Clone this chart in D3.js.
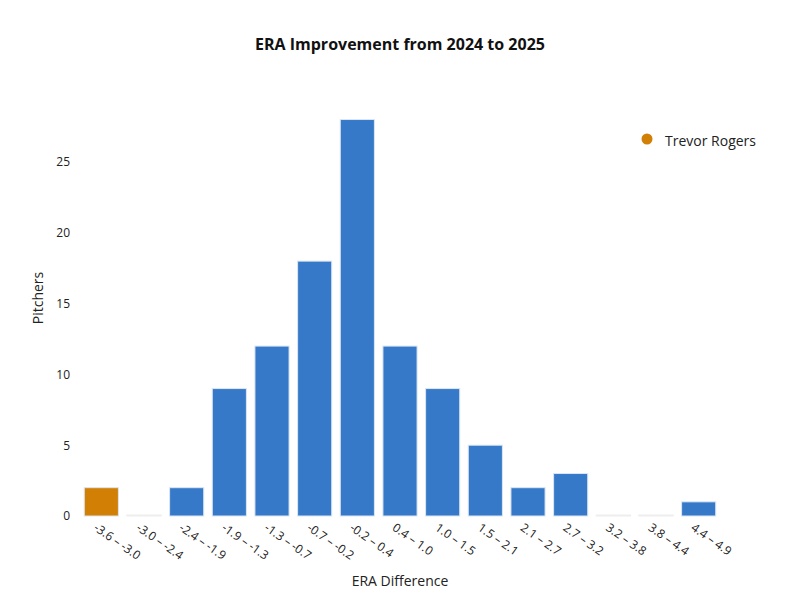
<!DOCTYPE html>
<html><head><meta charset="utf-8">
<script src="https://cdn.jsdelivr.net/npm/d3@7"></script>
<style>body{margin:0;background:#fff;font-family:"Open Sans",sans-serif;}</style>
</head><body><svg id="chart" width="800" height="600"></svg>
<script>
const categories = ["-3.6 – -3.0","-3.0 – -2.4","-2.4 – -1.9","-1.9 – -1.3","-1.3 – -0.7","-0.7 – -0.2","-0.2 – 0.4","0.4 – 1.0","1.0 – 1.5","1.5 – 2.1","2.1 – 2.7","2.7 – 3.2","3.2 – 3.8","3.8 – 4.4","4.4 – 4.9"];
const pitchers = [2,0,2,9,12,18,28,12,9,5,2,3,0,0,1];
const highlighted = [0]; // bin holding Trevor Rogers
const yTicks = [0,5,10,15,20,25];

const svg = d3.select("#chart");
const m = {left: 80, right: 80, top: 120, bottom: 84};
const w = 800 - m.left - m.right, h = 600 - m.top - m.bottom;
const g = svg.append("g").attr("transform", `translate(${m.left},${m.top})`);

const x = d3.scaleBand().domain(categories).range([0, w]).paddingInner(0.2).paddingOuter(0.1);
const y = d3.scaleLinear().domain([0, 28]).range([h, h - 28 * 354 / 25]);

g.selectAll("rect").data(pitchers).join("rect")
	.attr("x", (d, i) => x(categories[i]))
	.attr("y", d => y(d) - (d === 0 ? 1 : 0))
	.attr("width", x.bandwidth())
	.attr("height", d => Math.max(1, h - y(d)))
	.attr("fill", (d, i) => highlighted.includes(i) ? "#d17f05" : "#3679c9")
	.attr("stroke", (d, i) => d === 0 ? "#eeeeee" : "#dbe6f3")
	.attr("stroke-width", 1);

const yAxis = g.append("g").call(d3.axisLeft(y).tickValues(yTicks).tickSize(0).tickPadding(10));
yAxis.select(".domain").remove();
yAxis.selectAll("text").attr("font-size", 12).attr("fill", "#222").attr("font-family", "Open Sans");

const xAxis = g.append("g").attr("transform", `translate(0,${h})`)
	.call(d3.axisBottom(x).tickSize(0).tickPadding(0));
xAxis.select(".domain").remove();
xAxis.selectAll("text")
	.attr("font-size", 12).attr("fill", "#222").attr("font-family", "Open Sans")
	.attr("text-anchor", "start")
	.attr("transform", "translate(-6,10) rotate(35)")
	.attr("dy", "0.35em");

svg.append("text").attr("x", 400).attr("y", 50).attr("text-anchor", "middle")
	.attr("font-size", 16).attr("font-weight", "bold").attr("fill", "#111")
	.text("ERA Improvement from 2024 to 2025");
svg.append("text").attr("x", 400).attr("y", 586).attr("text-anchor", "middle")
	.attr("font-size", 14).attr("fill", "#222").text("ERA Difference");
svg.append("text").attr("transform", "translate(43,298) rotate(-90)").attr("text-anchor", "middle")
	.attr("font-size", 14).attr("fill", "#222").text("Pitchers");

svg.append("circle").attr("cx", 647).attr("cy", 139).attr("r", 5.5).attr("fill", "#d17f05");
svg.append("text").attr("x", 665).attr("y", 146).attr("font-size", 14).attr("fill", "#222").text("Trevor Rogers");
</script></body></html>
